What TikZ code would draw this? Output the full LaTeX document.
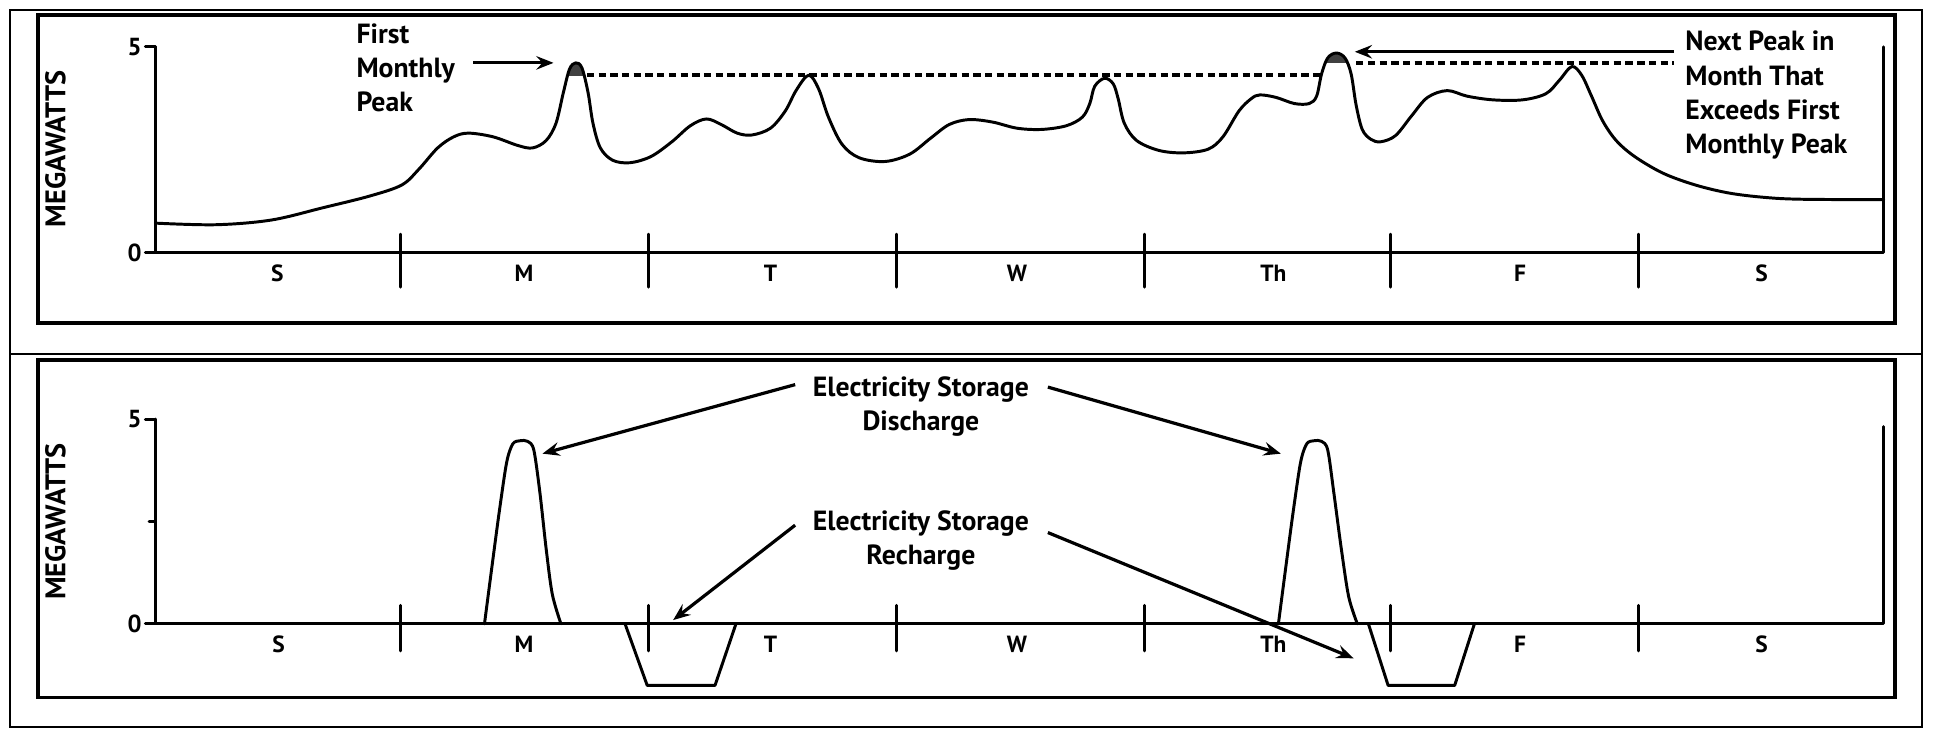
\documentclass[tikz,border=0pt]{standalone}
\usepackage{fontspec}
\setmainfont{PT Sans}
\usetikzlibrary{arrows.meta}
\begin{document}
\begin{tikzpicture}[x=1pt,y=-1pt,
  ln/.style={line width=2.4pt,line join=round,line cap=round},
  box/.style={line width=2.8pt},
  frame/.style={line width=1.4pt},
  dsh/.style={line width=3pt,dash pattern=on 6pt off 3.5pt},
  arr/.style={line width=2.6pt,-{Stealth[length=14pt,width=11pt,inset=5pt]}},
  txt/.style={font=\fontsize{22.5}{27.8}\selectfont\bfseries,inner sep=0pt},
  ann/.style={txt,align=left,anchor=north west},
  cann/.style={txt,align=center,anchor=north},
  day/.style={font=\fontsize{19}{22}\selectfont\bfseries,inner sep=0pt},
  ylab/.style={font=\fontsize{23}{26}\selectfont\bfseries,rotate=90,inner sep=0pt},
  num/.style={font=\fontsize{20}{22}\selectfont\bfseries,anchor=east,inner sep=0pt}]
\useasboundingbox (0,0) rectangle (1568,596);
\fill[white] (0,0) rectangle (1568,596);
% outer frame and panels
\draw[frame] (8,8) rectangle (1559,590);
\draw[frame] (8,287) -- (1559,287);
\draw[box] (31,12) rectangle (1537,262);
\draw[box] (31,292) rectangle (1537,566);

% ================= TOP PANEL =================
\node[ylab] (ylt) at (45,121) {MEGAWATTS};
\draw[ln] (126,38) -- (126,205) -- (1528,205) -- (1528,38);
\draw[ln] (118,38) -- (126,38);
\draw[ln] (118,205) -- (126,205);
\node[num] (t5) at (115,38) {5};
\node[num] (t0) at (115,205) {0};
\foreach \x in {325,526,727,928,1128,1329} \draw[ln] (\x,190) -- (\x,233);
\foreach \x/\d/\n in {225/S/a,425/M/b,625/T/c,825/W/d,1033/Th/e,1233/F/f,1429/S/g}
  \node[day] (td\n) at (\x,222) {\d};

% shaded peak caps
\begin{scope}
\clip (440,30) rectangle (500,61);
\fill[black!75] plot[smooth,tension=0.55] coordinates {(451,100) (457,75) (462,56) (467,51) (472,55) (477,75) (481,100)} -- cycle;
\end{scope}
\begin{scope}
\clip (1060,30) rectangle (1110,51);
\fill[black!75] plot[smooth,tension=0.55] coordinates {(1068,78) (1072,60) (1077,47) (1084,43) (1091,47) (1096,60) (1100,85)} -- cycle;
\end{scope}

% load curve
\draw[ln] plot[smooth,tension=0.55] coordinates {
(126,181) (175,182.3) (220,178.5) (262,168.5) (300,159) (326,150) (340,137) (355,120) (368,111) (380,108) (400,111) (420,118) (432,120) (443,114) (451,100) (457,75) (462,56) (467,51) (472,55) (477,75) (481,100) (487,120) (497,130) (511,132) (528,127) (545,115) (560,102) (573,96.5) (585,101) (598,108) (610,109.5) (625,104) (637,90) (646,73) (656,61) (664,72) (672,95) (683,117) (697,128) (718,131) (738,125) (755,112) (770,101) (786,97) (805,99) (825,104) (845,105) (865,102) (878,95) (884,84) (888,70) (896,63.5) (903,68) (907,80) (912,100) (922,114) (940,122) (960,124) (980,121) (992,111) (1005,90) (1015,80) (1022,77) (1035,79) (1050,84) (1062,84) (1068,78) (1072,60) (1077,47) (1084,43) (1091,47) (1096,60) (1100,85) (1105,105) (1112,113) (1120,115) (1132,110) (1145,94) (1158,79) (1174,73.5) (1190,78) (1211,81) (1235,81) (1254,76) (1265,65) (1275,54) (1283,61) (1291,78) (1300,98) (1311,114) (1326,127) (1349,140.5) (1375,150) (1402,156.5) (1430,160) (1460,161.6) (1528,162)};

% dashed reference lines
\coordinate (d1a) at (476,61);
\coordinate (d1b) at (1071,61);
\coordinate (d2a) at (1100,51);
\coordinate (d2b) at (1358,51);
\draw[dsh] (d1a) -- (d1b);
\draw[dsh] (d2a) -- (d2b);

% annotations
\node[ann] (fmp) at (289,19) {First\\Monthly\\Peak};
\coordinate (fmptip) at (449,51);
\draw[arr] (384,51) -- (fmptip);
\node[ann] (npk) at (1367,25) {Next Peak in\\Month That\\Exceeds First\\Monthly Peak};
\coordinate (npktail) at (1358,42);
\coordinate (npktip) at (1099,42);
\draw[arr] (npktail) -- (npktip);

% ================= BOTTOM PANEL =================
\node[ylab] (ylb) at (45,423) {MEGAWATTS};
\draw[ln] (126,340) -- (126,506) -- (1528,506) -- (1528,346);
\draw[ln] (118,340) -- (126,340);
\draw[ln] (121,423) -- (126,423);
\draw[ln] (118,506) -- (126,506);
\node[num] (b5) at (115,340) {5};
\node[num] (b0) at (115,506) {0};
\foreach \x in {325,526,727,928,1128,1329} \draw[ln] (\x,491) -- (\x,528);
\foreach \x/\d/\n in {226/S/a,425/M/b,625/T/c,825/W/d,1033/Th/e,1233/F/f,1429/S/g}
  \node[day] (bd\n) at (\x,523) {\d};

% discharge pulses
\draw[ln] plot[smooth,tension=0.5] coordinates {(393,506) (399,460) (405,415) (411,375) (416,360) (422,357.5) (428,358) (433,365) (438,400) (443,445) (448,482) (455,506)};
\draw[ln] plot[smooth,tension=0.5] coordinates {(1037,506) (1043,460) (1049,415) (1055,375) (1060,360) (1066,357.5) (1072,358) (1077,365) (1082,400) (1088,445) (1094,484) (1101,506)};
% recharge troughs
\draw[ln] (507,506) -- (525,556) -- (580,556) -- (597,506);
\draw[ln] (1110,506) -- (1126,556) -- (1180,556) -- (1196,506);

% annotations
\node[cann] (dis) at (747,305) {Electricity Storage\\Discharge};
\node[cann] (rec) at (747,414) {Electricity Storage\\Recharge};
\coordinate (dl) at (440,368);
\coordinate (dr) at (1039,368);
\coordinate (rl) at (546,503);
\coordinate (rr) at (1098,534);
\draw[arr] (645,312) -- (dl);
\draw[arr] (850,314) -- (dr);
\draw[arr] (645,426) -- (rl);
\draw[arr] (850,432) -- (rr);
\end{tikzpicture}
\end{document}
